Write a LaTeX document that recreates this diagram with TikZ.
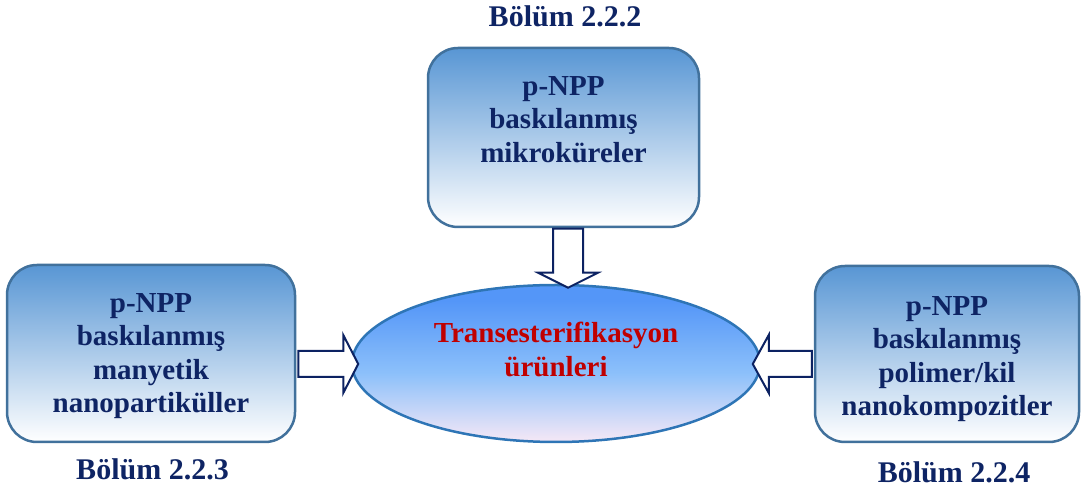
\documentclass[tikz,border=0pt]{standalone}
\usepackage{fontspec}
\setmainfont{Liberation Serif}
\usetikzlibrary{shapes.geometric,calc}

\definecolor{navy}{RGB}{14,36,100}
\definecolor{darkred}{RGB}{192,0,0}
\definecolor{boxline}{RGB}{65,113,156}
\definecolor{boxtop}{RGB}{88,150,212}
\definecolor{ellline}{RGB}{46,117,182}
\definecolor{elltop}{RGB}{84,150,248}
\definecolor{ellmid}{RGB}{140,192,250}
\definecolor{ellbot}{RGB}{246,232,246}
\definecolor{arrowline}{RGB}{12,34,98}

\pgfdeclareverticalshading{ellshade}{100bp}{color(0bp)=(ellbot); color(25bp)=(ellbot); color(47bp)=(ellmid); color(70bp)=(elltop); color(100bp)=(elltop)}

\tikzset{
  x=1pt, y=1pt,
  sectionbox/.style={draw=boxline, line width=2.5pt, rounded corners=30pt,
    top color=boxtop, bottom color=white, inner sep=0pt},
  boxtext/.style={text=navy, align=center, inner sep=0pt, anchor=north,
    font=\bfseries\fontsize{29}{33.5}\selectfont},
  sectionlabel/.style={text=navy, anchor=base, inner sep=0pt,
    font=\bfseries\fontsize{30}{34}\selectfont},
  product/.style={ellipse, draw=ellline, line width=2.5pt, shading=ellshade,
    minimum width=408pt, minimum height=157pt, inner sep=0pt},
  blockarrow/.style={draw=arrowline, fill=white, line width=2pt, line join=miter},
}

\begin{document}
\begin{tikzpicture}
\useasboundingbox (0,0) rectangle (1081,494);

% the three source boxes
\node[sectionbox, minimum width=271pt, minimum height=179pt] (top) at (563.5,356.5) {};
\node[sectionbox, minimum width=288pt, minimum height=177pt] (left) at (151,140.5) {};
\node[sectionbox, minimum width=264pt, minimum height=176pt] (right) at (947,140) {};

\node[boxtext] (toptext) at (563.5,418) {p-NPP\\baskılanmış\\mikroküreler};
\node[boxtext] (lefttext) at (151,201) {p-NPP\\baskılanmış\\manyetik\\nanopartiküller};
\node[boxtext] (righttext) at (947,198) {p-NPP\\baskılanmış\\polimer/kil\\nanokompozitler};

% central product ellipse
\node[product] (prod) at (556,130.5) {};
\node[boxtext, text=darkred] (prodtext) at (556,172) {Transesterifikasyon\\ürünleri};

% section references
\node[sectionlabel] (ltop) at (565,467) {Bölüm 2.2.2};
\node[sectionlabel] (lleft) at (152.5,14) {Bölüm 2.2.3};
\node[sectionlabel] (lright) at (954,11) {Bölüm 2.2.4};

% block arrows into the ellipse
\draw[blockarrow] ($(top.south)+(-10.5,-0.5)$) -- ++(30,0) -- ++(0,-44) -- ++(15,0)
  -- ++(-30,-15) -- ++(-30,15) -- ++(15,0) -- cycle;
\draw[blockarrow] ($(left.east)+(2,2.5)$) -- ++(45,0) -- ++(0,16) -- ++(15,-29)
  -- ++(-15,-29) -- ++(0,16) -- ++(-45,0) -- cycle;
\draw[blockarrow] ($(right.west)+(-2,3)$) -- ++(-43,0) -- ++(0,16) -- ++(-16,-29)
  -- ++(16,-29) -- ++(0,16) -- ++(43,0) -- cycle;
\end{tikzpicture}
\end{document}
